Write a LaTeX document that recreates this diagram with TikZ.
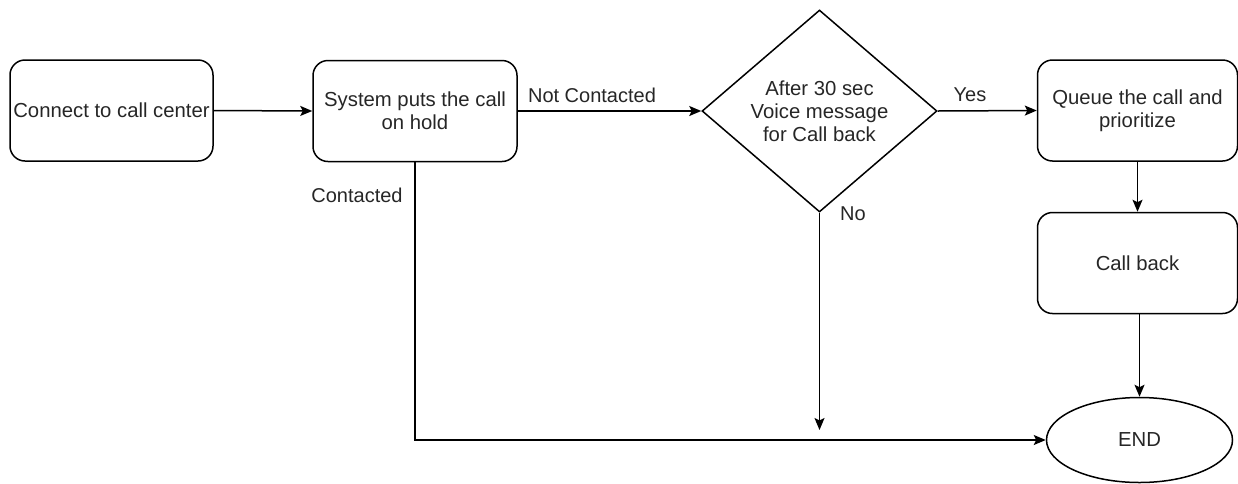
\documentclass[tikz,border=0pt]{standalone}
\usepackage{fontspec}
\setmainfont{Liberation Sans}
\usetikzlibrary{shapes.geometric,arrows.meta}
\tikzset{
  base/.style={draw=black, line width=1.5pt, align=center, inner sep=0pt, font=\fontsize{20.3}{23}\selectfont, text=black!85},
  procbox/.style={base, rectangle, rounded corners=15pt, minimum width=#1, minimum height=101pt},
  decision/.style={base, diamond, aspect=1.16, minimum width=235pt, minimum height=202pt},
  terminal/.style={base, ellipse, minimum width=186pt, minimum height=85pt},
  conn/.style={line width=1.5pt, -{Stealth[length=12pt,width=10pt,inset=2.5pt]}},
  lbl/.style={font=\fontsize{20}{23}\selectfont, text=black!85, inner sep=0pt}
}
\begin{document}
\begin{tikzpicture}[x=1pt,y=-1pt]
\useasboundingbox (0,0) rectangle (1238,483);
\node[procbox=203pt] (connect) at (111.5,110.5) {Connect to call center};
\node[procbox=204pt] (hold) at (415,111) {System puts the call\\on hold};
\node[decision] (voice) at (819.5,111) {After 30 sec\\Voice message\\for Call back};
\node[procbox=200pt] (queue) at (1137.5,110.5) {Queue the call and\\prioritize};
\node[procbox=200pt] (callback) at (1137.5,263) {Call back};
\node[terminal] (end) at (1139.5,440) {END};
\coordinate (noend) at (819.5,430);

\draw[conn] (connect.east) -- (hold.west);
\draw[conn] (hold.east) -- (voice.west);
\draw[conn] (voice.east) -- (queue.west);
\draw[conn] (queue.south) -- (callback.north);
\draw[conn] (callback.south -| end.north) -- (end.north);
\draw[conn] (voice.south) -- (noend);
\draw[conn] (hold.south) |- (end.west);

\node[lbl] (lnc) at (592,95) {Not Contacted};
\node[lbl] (lyes) at (970,95) {Yes};
\node[lbl] (lno) at (853,214) {No};
\node[lbl] (lc) at (357,195) {Contacted};
\end{tikzpicture}
\end{document}
